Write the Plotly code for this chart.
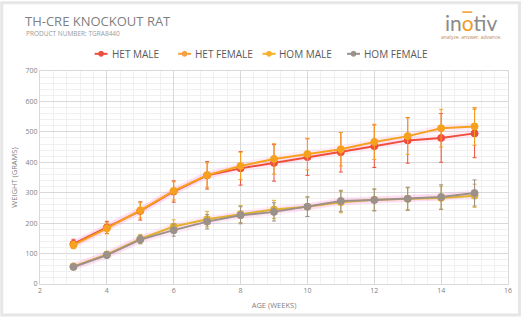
import plotly.graph_objects as go

weeks = [3, 4, 5, 6, 7, 8, 9, 10, 11, 12, 13, 14, 15]

het_male = [132, 186, 240, 304, 357, 380, 398, 417, 433, 453, 472, 480, 495]
het_male_sd = [15, 20, 30, 35, 45, 55, 60, 60, 65, 70, 75, 80, 80]

het_female = [58, 97, 148, 189, 213, 230, 245, 254, 269, 277, 280, 283, 290]
het_female_sd = [6, 10, 15, 22, 25, 28, 30, 32, 35, 35, 36, 38, 38]

hom_male = [128, 183, 242, 306, 358, 388, 411, 427, 443, 467, 486, 512, 518]
hom_male_sd = [12, 18, 25, 30, 40, 45, 50, 52, 55, 58, 60, 62, 62]

hom_female = [56, 95, 146, 177, 205, 226, 237, 254, 273, 276, 280, 286, 299]
hom_female_sd = [6, 10, 14, 20, 24, 28, 30, 32, 35, 36, 38, 40, 43]

series = [
    ("HET MALE", het_male, het_male_sd, "#ee4f3a"),
    ("HET FEMALE", het_female, het_female_sd, "#e3b12c"),
    ("HOM MALE", hom_male, hom_male_sd, "#f6a21e"),
    ("HOM FEMALE", hom_female, hom_female_sd, "#9c918a"),
]
legend_colors = ["#ee4f3a", "#f7a043", "#f6b02a", "#9c918a"]

x_ticks = [2, 4, 6, 8, 10, 12, 14, 16]
y_ticks = [0, 100, 200, 300, 400, 500, 600, 700]

fig = go.Figure()

# glow underlay
for name, vals, sd, col in series:
    fig.add_trace(go.Scatter(
        x=weeks, y=vals, mode="lines", showlegend=False, hoverinfo="skip",
        line=dict(color="rgba(255,140,210,0.16)", width=7),
    ))

for name, vals, sd, col in series:
    fig.add_trace(go.Scatter(
        x=weeks, y=vals, name=name, mode="lines+markers", showlegend=False,
        line=dict(color=col, width=2),
        marker=dict(color=col, size=7, line=dict(color=col, width=1)),
        error_y=dict(type="data", array=sd, visible=True, color=col,
                     thickness=1, width=2),
    ))

L, R, T, B = 40, 13, 71, 33
PW, PH = 524 - L - R, 321 - T - B

fig.update_layout(
    width=524, height=321,
    margin=dict(l=L, r=R, t=T, b=B),
    paper_bgcolor="white", plot_bgcolor="white",
    font=dict(family="Open Sans, sans-serif", color="#7f7f7f"),
    showlegend=False,
    xaxis=dict(range=[2, 16], tickvals=x_ticks, ticktext=[str(v) for v in x_ticks],
               showgrid=True, gridcolor="#d9d9d9", gridwidth=1,
               minor=dict(dtick=0.4, showgrid=True, gridcolor="#f0f0f0", gridwidth=1),
               zeroline=False, showline=True, linecolor="#d9d9d9", mirror=True,
               ticks="", tickfont=dict(size=7, color="#7f7f7f"),
               title=dict(text="AGE (WEEKS)", font=dict(size=7.5, color="#7f7f7f"), standoff=8)),
    yaxis=dict(range=[0, 700], tickvals=y_ticks, ticktext=[str(v) for v in y_ticks],
               showgrid=True, gridcolor="#d9d9d9", gridwidth=1,
               minor=dict(dtick=20, showgrid=True, gridcolor="#f0f0f0", gridwidth=1),
               zeroline=False, showline=True, linecolor="#d9d9d9", mirror=True,
               ticks="", tickfont=dict(size=7, color="#7f7f7f"),
               title=dict(text="WEIGHT (GRAMS)", font=dict(size=7.5, color="#7f7f7f"), standoff=6)),
)


def px(x):
    return (x - L) / PW


def py(y):
    return 1 - (y - T) / PH


# outer frame around the whole picture
fig.add_shape(type="rect", xref="paper", yref="paper",
              x0=px(1.5), x1=px(524 - 1.5), y0=py(321 - 1.5), y1=py(1.5),
              line=dict(color="#e6e6e6", width=3), fillcolor="rgba(0,0,0,0)", layer="below")

# legend (drawn manually to match the compact entries)
legend_starts = [95, 179, 264, 349]
ly = 53.5
for (name, vals, sd, col), lc, sx in zip(series, legend_colors, legend_starts):
    fig.add_shape(type="line", xref="paper", yref="paper",
                  x0=px(sx), x1=px(sx + 13), y0=py(ly), y1=py(ly),
                  line=dict(color=lc, width=2))
    fig.add_shape(type="circle", xref="paper", yref="paper",
                  x0=px(sx + 4), x1=px(sx + 9), y0=py(ly + 2.5), y1=py(ly - 2.5),
                  line=dict(color=lc, width=1), fillcolor=lc)
    fig.add_annotation(text=name, xref="paper", yref="paper",
                       x=px(sx + 15), y=py(ly), xanchor="left", yanchor="middle",
                       showarrow=False, font=dict(size=10, color="#595959"))

fig.add_annotation(text="TH-CRE KNOCKOUT RAT", xref="paper", yref="paper",
                   x=px(23), y=py(20), xanchor="left", yanchor="middle", showarrow=False,
                   font=dict(size=13, color="#7f7f7f"))
fig.add_annotation(text="PRODUCT NUMBER: TGRA8440", xref="paper", yref="paper",
                   x=px(24), y=py(33), xanchor="left", yanchor="middle", showarrow=False,
                   font=dict(size=6.5, color="#9a9a9a"))
fig.add_annotation(text="in<span style='color:#f39a1e'>o</span>tiv", xref="paper", yref="paper",
                   x=px(474), y=py(22), xanchor="center", yanchor="middle", showarrow=False,
                   font=dict(size=21, color="#8a8a8a", family="Lato, sans-serif"))
fig.add_annotation(text="analyze. answer. advance.", xref="paper", yref="paper",
                   x=px(474), y=py(36), xanchor="center", yanchor="middle", showarrow=False,
                   font=dict(size=5, color="#c08a50"))
fig.add_shape(type="line", xref="paper", yref="paper",
              x0=px(465), x1=px(475), y0=py(11), y1=py(11),
              line=dict(color="#f39a1e", width=1.5))

fig.write_html("out.html")
